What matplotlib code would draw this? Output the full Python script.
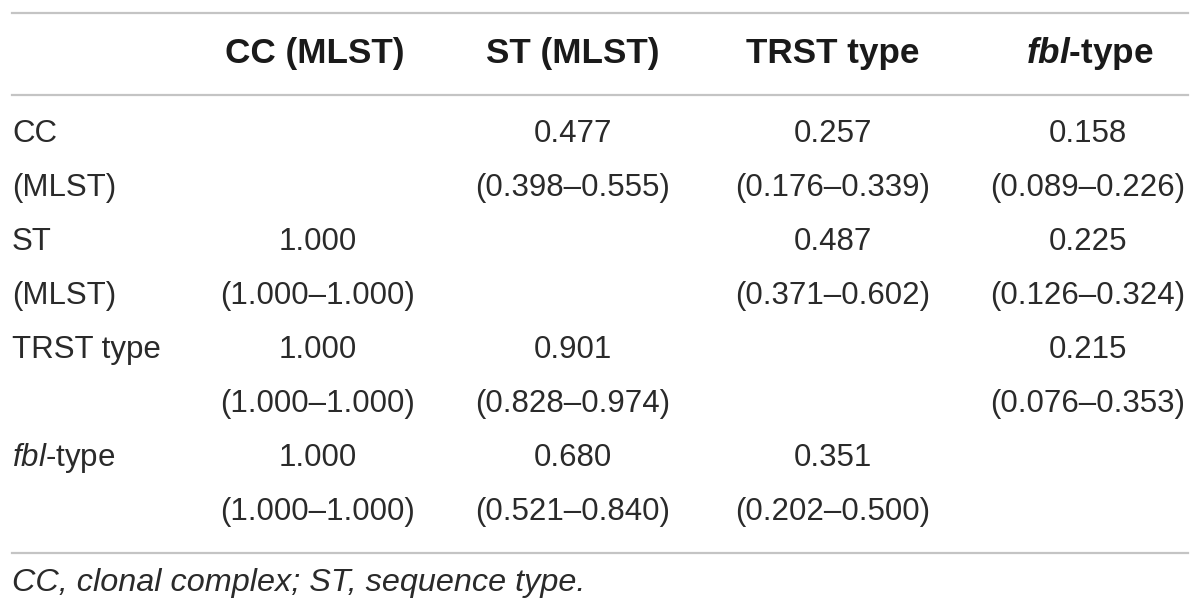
import matplotlib
matplotlib.use("Agg")
import matplotlib.pyplot as plt
from matplotlib.lines import Line2D

plt.rcParams['font.family'] = ['Liberation Sans', 'DejaVu Sans']
plt.rcParams['mathtext.fontset'] = 'custom'
plt.rcParams['mathtext.rm'] = 'Liberation Sans'
plt.rcParams['mathtext.it'] = 'Liberation Sans:italic'
plt.rcParams['mathtext.bf'] = 'Liberation Sans:bold'
plt.rcParams['mathtext.bfit'] = 'Liberation Sans:italic:bold'

# ---- data ----
col_headers = ["CC (MLST)", "ST (MLST)", "TRST type", r"$\mathbfit{fbl}$-type"]
row_labels = [["CC", "(MLST)"], ["ST", "(MLST)"], ["TRST type", ""], [r"$\mathit{fbl}$-type", ""]]
values = [
    [None, "0.477", "0.257", "0.158"],
    ["1.000", None, "0.487", "0.225"],
    ["1.000", "0.901", None, "0.215"],
    ["1.000", "0.680", "0.351", None],
]
intervals = [
    [None, "(0.398–0.555)", "(0.176–0.339)", "(0.089–0.226)"],
    ["(1.000–1.000)", None, "(0.371–0.602)", "(0.126–0.324)"],
    ["(1.000–1.000)", "(0.828–0.974)", None, "(0.076–0.353)"],
    ["(1.000–1.000)", "(0.521–0.840)", "(0.202–0.500)", None],
]
footnote = "CC, clonal complex; ST, sequence type."

W, H = 1200, 616
fig = plt.figure(figsize=(W / 100, H / 100), dpi=100)
fig.patch.set_facecolor("white")

def fx(x):
    return x / W

def fy(y):
    return 1 - y / H

txt_color = "#2a2a2a"
fs = 22.5
fs_head = 25.3
col_x = [318, 573, 833, 1088]
head_x = [315, 573, 833, 1090]

# rules
for y in [13, 95, 553]:
    fig.add_artist(Line2D([fx(12), fx(1188)], [fy(y), fy(y)], color="#c4c4c4", lw=1.6))

# headers
for cx, h in zip(head_x, col_headers):
    fig.text(fx(cx), fy(53), h, ha="center", va="center", fontsize=fs_head, fontweight="bold", color="#1a1a1a")

row_y = [134, 242, 350, 458]
for i, ry in enumerate(row_y):
    fig.text(fx(12), fy(ry), row_labels[i][0], ha="left", va="center", fontsize=fs, color=txt_color)
    if row_labels[i][1]:
        fig.text(fx(12), fy(ry + 54), row_labels[i][1], ha="left", va="center", fontsize=fs, color=txt_color)
    for j in range(4):
        if values[i][j] is not None:
            fig.text(fx(col_x[j]), fy(ry), values[i][j], ha="center", va="center", fontsize=fs, color=txt_color)
            fig.text(fx(col_x[j]), fy(ry + 54), intervals[i][j], ha="center", va="center", fontsize=fs, color=txt_color)

fig.text(fx(12), fy(583), footnote, ha="left", va="center", fontsize=23.3, style="italic", color=txt_color)

fig.savefig("out.png", dpi=100, facecolor="white")
